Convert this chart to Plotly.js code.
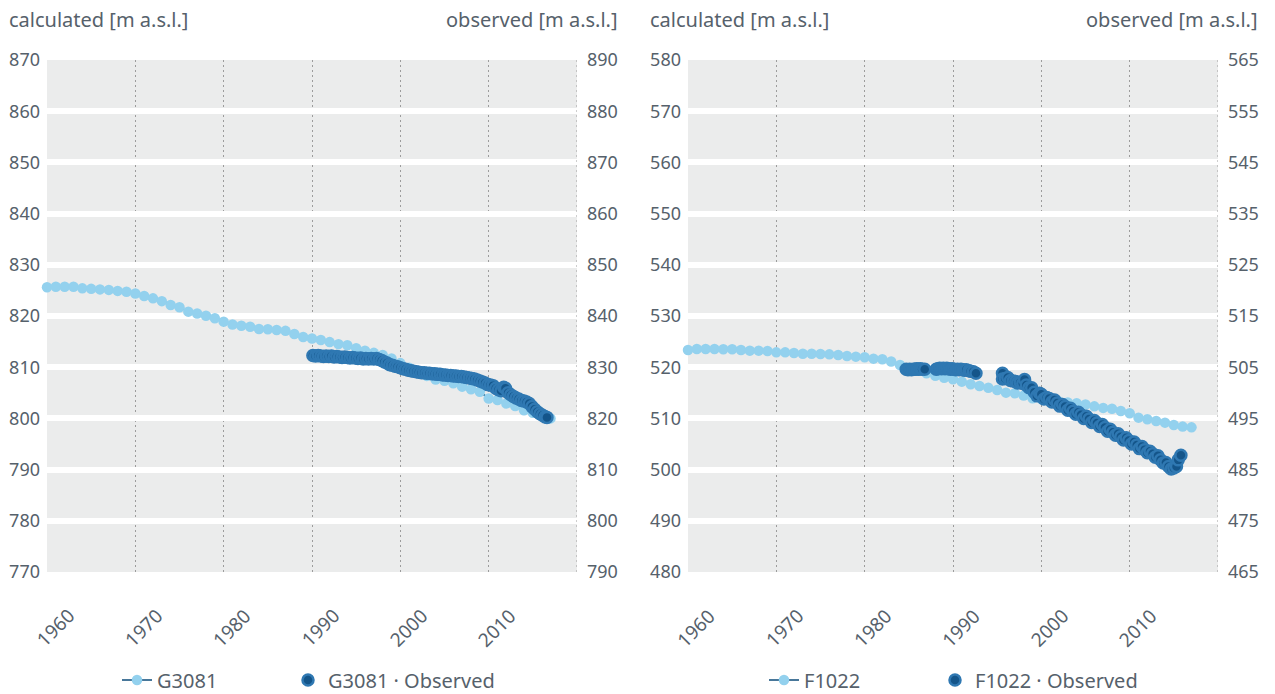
<!DOCTYPE html>
<html>
<head>
<meta charset="utf-8">
<script src="https://cdn.plot.ly/plotly-3.0.1.min.js"></script>
<style>html,body{margin:0;padding:0;background:#fff;}#chart{width:1275px;height:694px;}</style>
</head>
<body>
<div id="chart"></div>
<script>
// ---------- DATA ----------
const calcYears = [1960,1961,1962,1963,1964,1965,1966,1967,1968,1969,1970,1971,1972,1973,1974,1975,1976,1977,1978,1979,1980,1981,1982,1983,1984,1985,1986,1987,1988,1989,1990,1991,1992,1993,1994,1995,1996,1997,1998,1999,2000,2001,2002,2003,2004,2005,2006,2007,2008,2009,2010,2011,2012,2013,2014,2015,2016,2017];

const g3081Calc = [825.6,825.7,825.7,825.7,825.4,825.3,825.2,825.1,824.9,824.75,824.4,823.9,823.45,822.9,822.15,821.7,820.85,820.5,820.05,819.55,818.9,818.35,818.1,817.9,817.45,817.4,817.25,817.1,816.5,815.9,815.6,815.3,814.9,814.5,814.3,813.7,813.2,812.8,812.4,811.7,810.8,809.9,809.1,808.3,807.6,807.35,806.85,806.2,805.7,805.2,803.9,803.6,802.9,802.4,801.6,801.1,800.5,800.0];

const g3081ObsYears = [1990.1,1990.4,1990.7,1991.0,1991.3,1991.6,1991.9,1992.2,1992.5,1992.8,1993.1,1993.4,1993.7,1994.0,1994.3,1994.6,1994.9,1995.2,1995.5,1995.8,1996.1,1996.4,1996.7,1997.0,1997.3,1997.6,1997.9,1998.2,1998.5,1998.8,1999.1,1999.4,1999.7,2000.0,2000.3,2000.6,2000.9,2001.2,2001.5,2001.8,2002.1,2002.4,2002.7,2003.0,2003.3,2003.6,2003.9,2004.2,2004.5,2004.8,2005.1,2005.4,2005.7,2006.0,2006.3,2006.6,2006.9,2007.2,2007.5,2007.8,2008.1,2008.4,2008.7,2009.0,2009.3,2009.6,2009.9,2010.2,2010.5,2010.8,2011.1,2011.4,2011.7,2011.9,2012.2,2012.5,2012.8,2013.1,2013.4,2013.7,2014.0,2014.3,2014.6,2014.9,2015.2,2015.5,2015.8,2016.1,2016.4,2016.6];
const g3081Obs = [832.3,832.2,832.3,832.2,832.1,832.2,832.1,832.2,832.0,832.1,832.0,831.9,832.0,831.9,831.8,831.9,831.8,831.7,831.8,831.6,831.7,831.6,831.7,831.6,831.7,831.5,831.3,831.0,830.8,830.5,830.4,830.2,830.1,829.9,829.7,829.6,829.4,829.3,829.2,829.1,829.0,828.9,828.9,828.8,828.8,828.7,828.7,828.6,828.6,828.5,828.5,828.4,828.4,828.3,828.3,828.2,828.2,828.1,828.0,827.9,827.8,827.7,827.5,827.3,827.1,826.9,826.6,826.5,826.4,825.9,825.6,825.4,826.1,825.9,825.0,824.6,824.3,824.0,823.8,823.5,823.4,823.2,822.9,822.3,821.8,821.3,820.9,820.6,820.3,820.2];

const f1022Calc = [523.36,523.55,523.55,523.55,523.49,523.49,523.36,523.23,523.23,523.16,522.9,522.9,522.77,522.64,522.64,522.58,522.51,522.38,522.19,522.06,521.93,521.67,521.54,521.1,520.43,519.8,519.3,518.8,518.34,517.95,517.63,517.18,516.66,516.33,516.0,515.55,515.03,514.9,514.45,513.93,513.8,513.6,513.3,513.1,512.95,512.7,512.35,512.05,511.9,511.45,511.0,510.15,509.82,509.5,509.17,508.7,508.4,508.25];

const f1022ObsYears = [1984.7,1984.9,1985.1,1985.3,1985.5,1985.7,1985.9,1986.1,1986.3,1986.5,1986.8,
1988.1,1988.3,1988.5,1988.7,1988.9,1989.1,1989.3,1989.5,1989.7,1989.9,1990.1,1990.3,1990.5,1990.7,1990.9,1991.1,1991.3,1991.5,1991.8,1992.0,1992.3,1992.6,
1995.6,1995.6,1995.9,1996.2,1996.5,1996.8,1997.1,1997.3,1997.6,1997.9,1998.1,1998.3,1998.6,1998.9,1999.2,1999.5,1999.8,2000.0,2000.3,2000.6,2000.9,2001.2,2001.5,2001.8,2002.1,2002.4,2002.7,2003.0,2003.3,2003.6,2003.9,2004.2,2004.5,2004.8,2005.1,2005.4,2005.7,2006.0,2006.3,2006.6,2006.9,2007.2,2007.5,2007.8,2008.1,2008.4,2008.7,2009.0,2009.3,2009.6,2009.9,2010.2,2010.5,2010.8,2011.1,2011.4,2011.7,2012.0,2012.3,2012.6,2012.9,2013.2,2013.5,2013.8,2014.1,2014.4,2014.7,2015.0,2015.3,2015.5,2015.8];
const f1022Obs = [504.6,504.5,504.6,504.5,504.6,504.6,504.7,504.6,504.7,504.6,504.6,
504.6,504.7,504.8,504.7,504.8,504.7,504.8,504.7,504.6,504.7,504.6,504.5,504.6,504.5,504.6,504.5,504.4,504.5,504.3,504.2,504.1,503.8,
503.8,502.7,502.8,503.0,502.4,502.3,502.2,501.9,502.0,501.8,502.6,501.5,501.0,501.0,500.1,499.4,499.9,499.7,498.8,499.1,498.9,498.2,498.6,498.0,497.4,497.7,497.3,496.6,497.0,496.4,495.8,496.2,495.7,495.0,495.4,494.9,494.2,494.6,494.1,493.4,493.8,493.2,492.5,492.9,492.3,491.7,492.0,491.4,490.8,491.2,490.7,490.0,490.4,489.8,489.1,489.5,488.9,488.3,488.6,488.1,487.4,487.7,486.9,486.3,486.4,485.6,485.1,485.3,485.6,486.9,487.8];

const xTicks = [1960,1970,1980,1990,2000,2010];
const axisTitles = ["calculated [m a.s.l.]","observed [m a.s.l.]"];

// ---------- STYLE ----------
const TXT = '#56616b';
const FONT = 'Noto Sans, sans-serif';
const calcStyle = {
  mode:'lines+markers', cliponaxis:false,
  line:{color:'#0b4a78', width:1.5},
  marker:{color:'#93d1ee', size:10.5, line:{width:0}}
};
const obsStyle = {
  mode:'markers', cliponaxis:false,
  marker:{color:'#14558a', size:11, line:{color:'#2f78b2', width:2.5}}
};

const traces = [
  Object.assign({x:calcYears, y:g3081Calc, name:'G3081', xaxis:'x', yaxis:'y', legend:'legend'}, calcStyle),
  Object.assign({x:g3081ObsYears, y:g3081Obs, name:'G3081 · Observed', xaxis:'x', yaxis:'y2', legend:'legend2'}, obsStyle),
  Object.assign({x:calcYears, y:f1022Calc, name:'F1022', xaxis:'x2', yaxis:'y3', legend:'legend3'}, calcStyle),
  Object.assign({x:f1022ObsYears, y:f1022Obs, name:'F1022 · Observed', xaxis:'x2', yaxis:'y4', legend:'legend4'}, obsStyle)
];

const W = 1275, H = 694;
const yDom = [1 - 572/H, 1 - 60/H];
const dL = [47/W, 577/W], dR = [688/W, 1218/W];
const GRIDX = '#9c9c9c';

function xAx(dom, anchor){
  return {domain:dom, anchor:anchor, range:[1960,2020], tickvals:xTicks,
    showgrid:true, gridcolor:GRIDX, griddash:'2px,3px', gridwidth:1, zeroline:false, showline:false,
    ticks:'', showticklabels:false, fixedrange:true, automargin:false};
}
function yAx(range, anchor, side, overlay){
  const a = {domain:yDom, anchor:anchor, side:side, range:range, dtick:10, tick0:range[0],
    zeroline:false, showline:false, ticks:'', tickfont:{family:FONT, size:18, color:TXT},
    ticklabelstandoff: side==='right' ? 9 : 6, fixedrange:true, automargin:false};
  if(overlay){ a.overlaying = overlay; a.showgrid = false; }
  else { a.showgrid = true; a.gridcolor = '#ffffff'; a.gridwidth = 6; }
  return a;
}

const ann = [];
[[7/W,'left',axisTitles[0]],[620/W,'right',axisTitles[1]],[648/W,'left',axisTitles[0]],[1260/W,'right',axisTitles[1]]].forEach(a=>{
  ann.push({xref:'paper', yref:'paper', x:a[0], xanchor:a[1], y:1-20/H, yanchor:'middle', text:a[2], showarrow:false,
    font:{family:FONT, size:20, color:TXT}});
});
// rotated x tick labels
['x','x2'].forEach(xr=>{
  xTicks.forEach(t=>{
    ann.push({xref:xr, yref:'paper', x:t, xanchor:'center', xshift:8, y:1-628/H, yanchor:'middle',
      text:String(t), textangle:-45, showarrow:false, font:{family:FONT, size:19, color:TXT}});
  });
});

function leg(px){
  return {orientation:'h', x:px/W, xanchor:'left', y:1-680/H, yanchor:'middle',
    font:{family:FONT,size:20,color:TXT}, itemwidth:30, bgcolor:'rgba(0,0,0,0)', borderwidth:0};
}

const layout = {
  width:W, height:H, margin:{l:0,r:0,t:0,b:0, autoexpand:false},
  paper_bgcolor:'#ffffff', plot_bgcolor:'#ebecec',
  font:{family:FONT, color:TXT},
  xaxis:xAx(dL,'y'), yaxis:yAx([770,870],'x','left'), yaxis2:yAx([790,890],'x','right','y'),
  xaxis2:xAx(dR,'y3'), yaxis3:yAx([480,580],'x2','left'), yaxis4:yAx([465,565],'x2','right','y3'),
  legend:leg(117), legend2:leg(288), legend3:leg(764), legend4:leg(935),
  annotations:ann,
  shapes:[
    {type:'line', xref:'x', yref:'paper', x0:2020, x1:2020, y0:yDom[0], y1:yDom[1], line:{color:GRIDX, width:1, dash:'2px,3px'}, layer:'above'},
    {type:'line', xref:'x2', yref:'paper', x0:2020, x1:2020, y0:yDom[0], y1:yDom[1], line:{color:GRIDX, width:1, dash:'2px,3px'}, layer:'above'}
  ],
  showlegend:true
};

Plotly.newPlot('chart', traces, layout, {displayModeBar:false, staticPlot:true});
</script>
</body>
</html>
